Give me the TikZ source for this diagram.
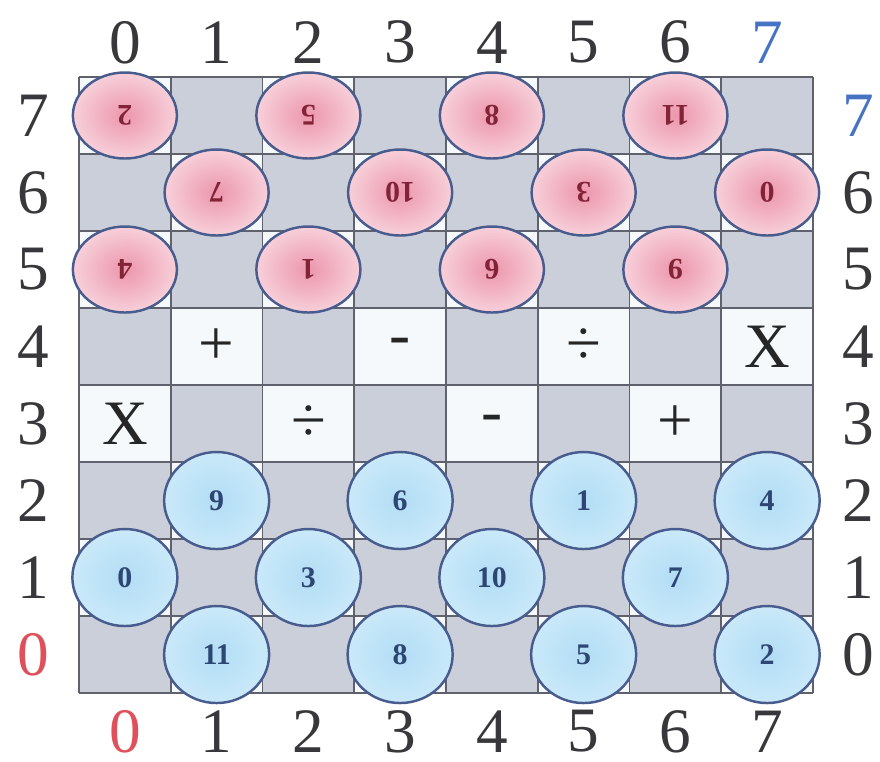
\documentclass[tikz,border=0pt]{standalone}
\usepackage{fontspec}
\setmainfont{Liberation Serif}
\usetikzlibrary{shapes.geometric}
\definecolor{CellGray}{RGB}{203,207,217}
\definecolor{CellWhite}{RGB}{246,249,252}
\definecolor{GridLine}{RGB}{95,98,108}
\definecolor{PinkIn}{RGB}{236,150,172}
\definecolor{PinkOut}{RGB}{247,208,218}
\definecolor{SkyIn}{RGB}{178,221,245}
\definecolor{SkyOut}{RGB}{202,233,249}
\definecolor{RimBlue}{RGB}{72,92,142}
\definecolor{RedText}{RGB}{130,35,55}
\definecolor{BlueText}{RGB}{45,70,115}
\definecolor{AxisGray}{RGB}{55,55,60}
\definecolor{AxisRed}{RGB}{222,80,90}
\definecolor{AxisBlue}{RGB}{70,115,195}
\tikzset{
  piece/.style={ellipse,draw=RimBlue,line width=0.7pt,inner sep=0pt,
    font=\fontsize{8.5}{8.5}\selectfont\bfseries},
  redpiece/.style={piece,minimum width=1.04cm,minimum height=0.86cm,
    inner color=PinkIn,outer color=PinkOut,text=RedText,rotate=180},
  bluepiece/.style={piece,minimum width=1.05cm,minimum height=0.97cm,
    inner color=SkyIn,outer color=SkyOut,text=BlueText},
  axis/.style={font=\fontsize{18}{18}\selectfont,inner sep=0pt},
  opsign/.style={font=\fontsize{18}{18}\selectfont,text=black!85,inner sep=0pt},
}

\begin{document}
\begin{tikzpicture}[x=0.9175cm,y=0.77cm]
\useasboundingbox (-0.861,-0.883) rectangle (8.730,9.0);
% board cells
\foreach \c in {0,...,7}
  \foreach \r in {0,...,7}{
    \pgfmathparse{int(mod(\c+\r,2))}
    \ifnum\pgfmathresult=0 \def\cellcol{CellGray}\else \def\cellcol{CellWhite}\fi
    \fill[\cellcol] (\c,\r) rectangle ++(1,1);
  }
\foreach \i in {0,...,8}
  \draw[GridLine,line width=0.5pt] (\i,0)--(\i,8) (0,\i)--(8,\i);
% operators
\foreach \c/\r/\s in {1/4/+,3/4/-,5/4/÷,7/4/X,0/3/X,2/3/÷,4/3/-,6/3/+}
  \node[opsign] (op\c\r) at (\c+0.5,\r+0.5) {\s};
% pieces, red ones mirror the blue ones
\foreach \c/\r/\n in {0/1/0,1/2/9,1/0/11,2/1/3,3/2/6,3/0/8,4/1/10,5/2/1,5/0/5,6/1/7,7/2/4,7/0/2}{
  \node[bluepiece] (b\n) at (\c+0.5,\r+0.5) {\n};
  \node[redpiece] (r\n) at ({7-\c+0.5},{7-\r+0.5}) {\n};
}
% coordinates
\foreach \i/\lo/\hi in {0/AxisRed/AxisGray,1/AxisGray/AxisGray,2/AxisGray/AxisGray,
  3/AxisGray/AxisGray,4/AxisGray/AxisGray,5/AxisGray/AxisGray,6/AxisGray/AxisGray,
  7/AxisGray/AxisBlue}{
  \node[axis,text=\hi] (top\i) at (\i+0.5,8.45) {\i};
  \node[axis,text=\lo] (bot\i) at (\i+0.5,-0.5) {\i};
  \node[axis,text=\lo] (lft\i) at (-0.5,\i+0.5) {\i};
  \node[axis,text=\hi] (rgt\i) at (8.49,\i+0.5) {\i};
}
\end{tikzpicture}
\end{document}
